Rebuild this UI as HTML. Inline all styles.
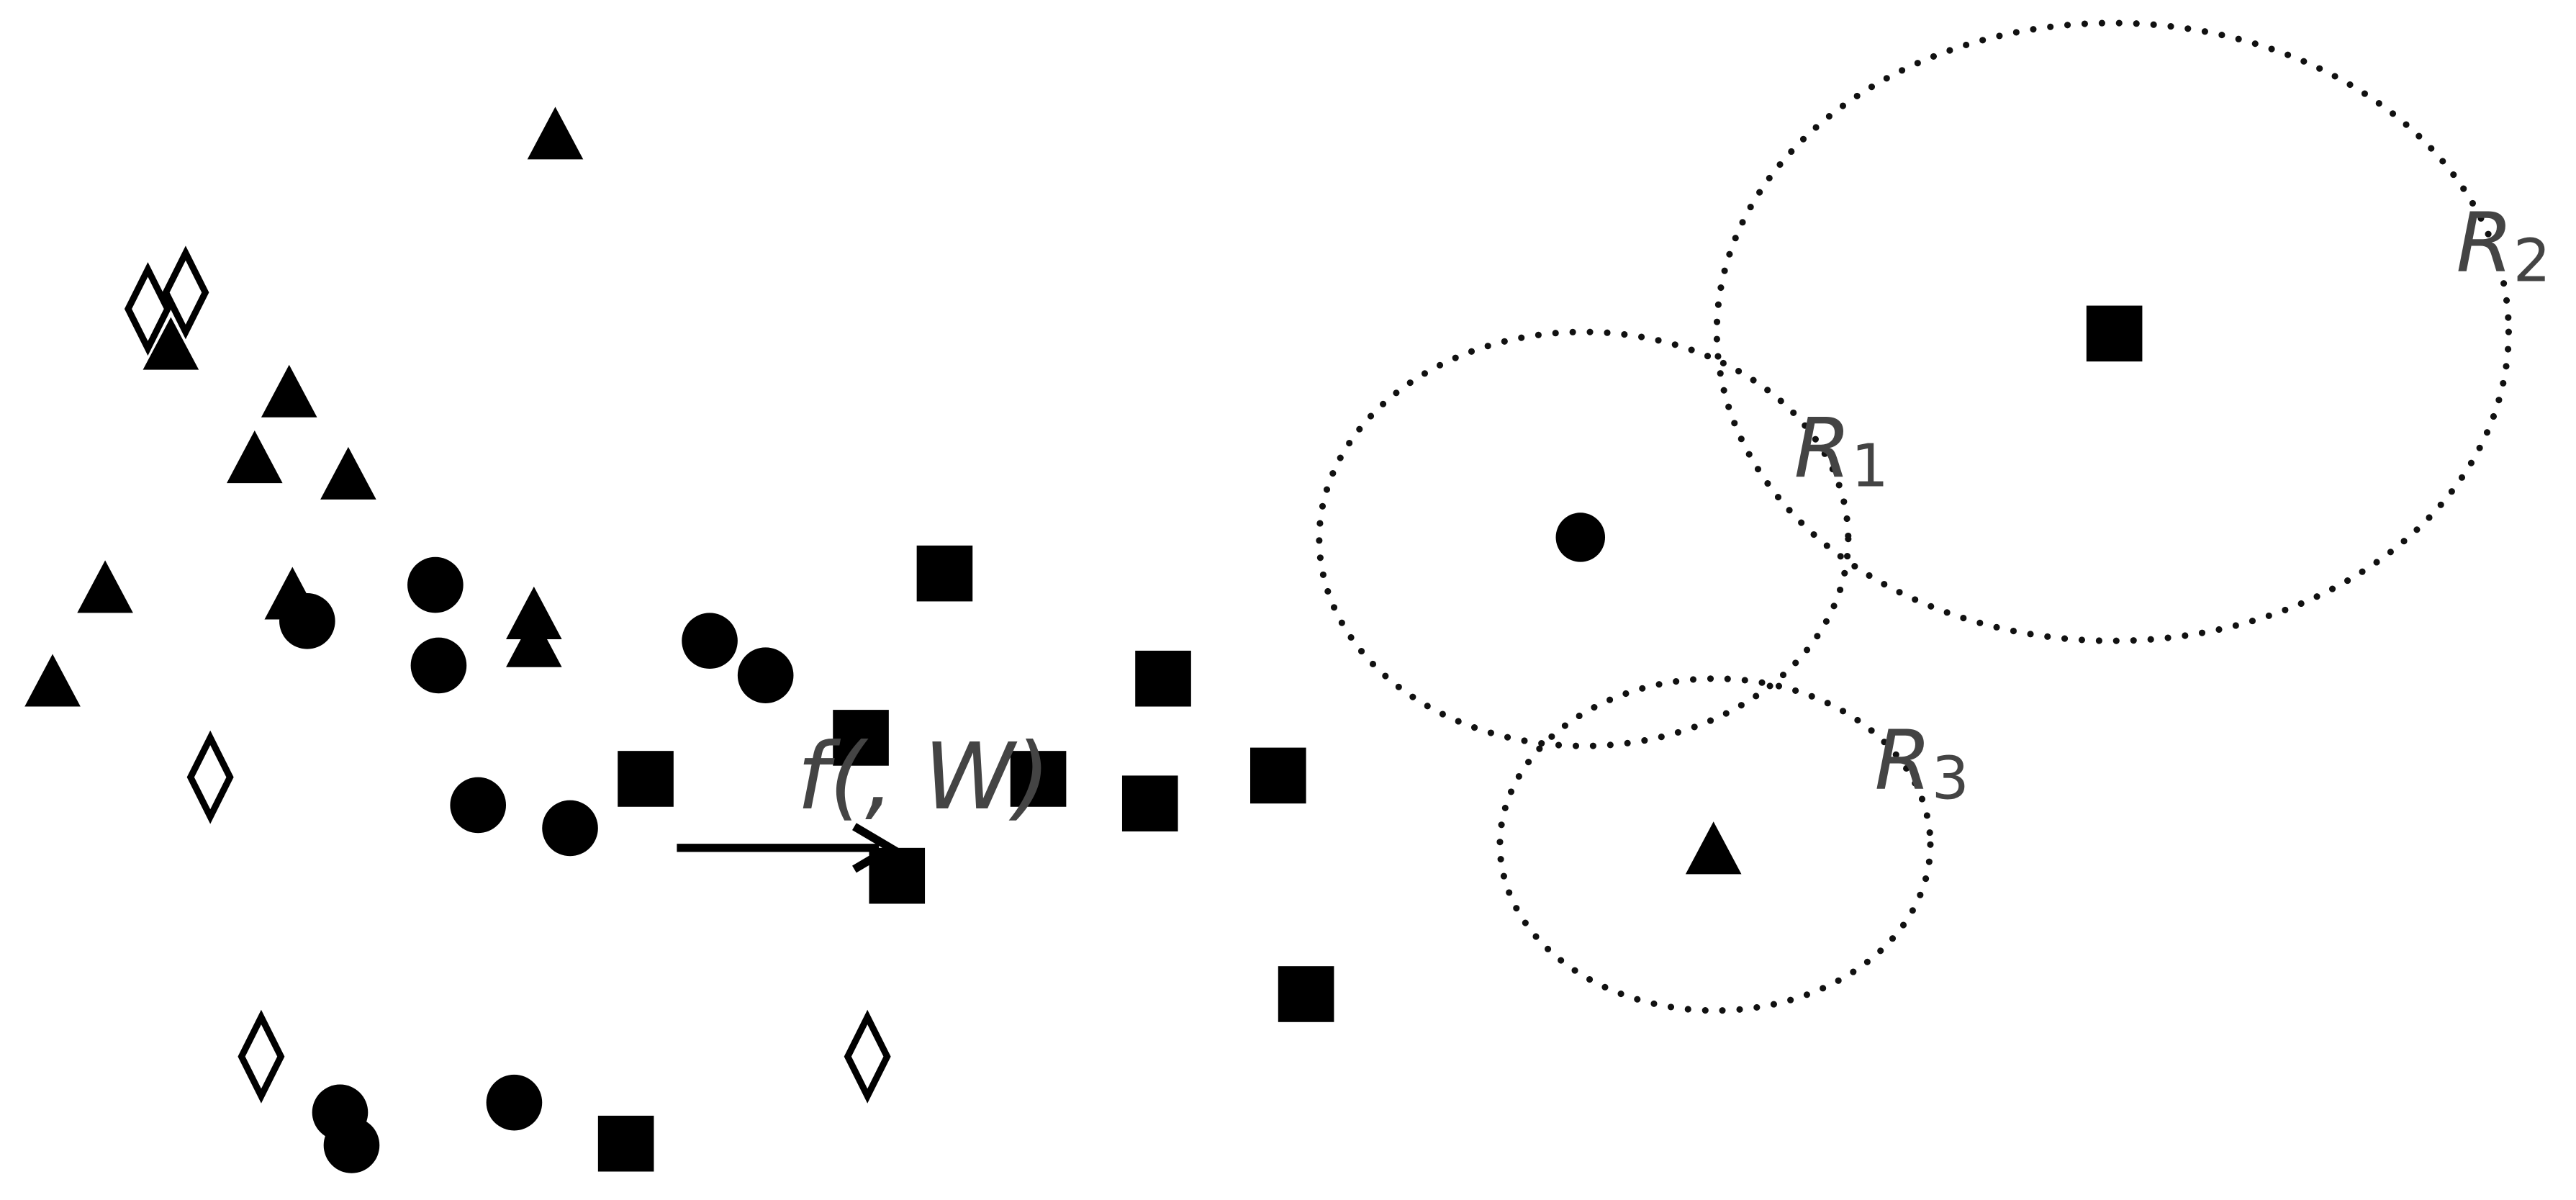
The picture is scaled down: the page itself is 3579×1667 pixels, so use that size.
<!DOCTYPE html>
<html><head><meta charset="utf-8"><style>
html,body{margin:0;padding:0;background:#fff;}
svg{display:block;}
text{font-family:"DejaVu Sans","Liberation Sans",sans-serif;font-style:italic;fill:#444;}
</style></head><body>
<svg width="3579" height="1667" viewBox="0 0 1568 730.3" preserveAspectRatio="none" xmlns="http://www.w3.org/2000/svg">
<defs>
<polygon id="t" points="0,-17 17,15 -17,15"/>
<rect id="s" x="-17" y="-17" width="34" height="34"/>
<polygon id="d" points="0,-24 12,0 0,24 -12,0" fill="#fff" stroke="#000" stroke-width="4"/>
</defs>
<g fill="#000">
<use href="#t" x="338" y="82"/>
<use href="#t" x="104" y="210"/>
<use href="#t" x="176" y="239"/>
<use href="#t" x="155" y="279"/>
<use href="#t" x="212" y="289"/>
<use href="#t" x="64" y="358"/>
<use href="#t" x="32" y="415"/>
<use href="#t" x="178" y="362"/>
<use href="#t" x="325" y="374"/>
<use href="#t" x="325" y="391"/>
<circle cx="187" cy="378" r="17"/>
<circle cx="265" cy="356" r="17"/>
<circle cx="267" cy="405" r="17"/>
<circle cx="432" cy="390" r="17"/>
<circle cx="466" cy="411" r="17"/>
<circle cx="291" cy="490" r="17"/>
<circle cx="347" cy="504" r="17"/>
<circle cx="207" cy="677" r="17"/>
<circle cx="214" cy="697" r="17"/>
<circle cx="313" cy="671" r="17"/>
<use href="#s" x="575" y="349"/>
<use href="#s" x="708" y="413"/>
<use href="#s" x="524" y="449"/>
<use href="#s" x="393" y="474"/>
<use href="#s" x="632" y="474"/>
<use href="#s" x="700" y="489"/>
<use href="#s" x="778" y="472"/>
<use href="#s" x="546" y="533"/>
<use href="#s" x="795" y="605"/>
<use href="#s" x="381" y="696"/>
<circle cx="962" cy="327" r="15"/>
<rect x="1270" y="186" width="34" height="34"/>
<use href="#t" x="1043" y="517"/>
</g>
<use href="#d" x="90" y="188"/>
<use href="#d" x="113" y="178"/>
<use href="#d" x="128" y="473"/>
<use href="#d" x="159" y="643"/>
<use href="#d" x="528" y="643"/>
<line x1="412" y1="516" x2="535" y2="516" stroke="#000" stroke-width="5"/>
<polyline points="520,503 542,516 520,529" fill="none" stroke="#000" stroke-width="5"/>
<text x="485" y="492" font-size="56">f(, W)</text>
<g fill="none" stroke="#111" stroke-width="4" stroke-linecap="round" stroke-dasharray="0 10.5">
<ellipse cx="964" cy="328" rx="161" ry="126"/>
<ellipse cx="1286" cy="202" rx="241" ry="188"/>
<ellipse cx="1044" cy="514" rx="131" ry="101"/>
</g>
<text x="1092" y="290" font-size="50">R<tspan font-size="36" dy="6" font-style="normal">1</tspan></text>
<text x="1495" y="165" font-size="50">R<tspan font-size="36" dy="6" font-style="normal">2</tspan></text>
<text x="1141" y="480" font-size="50">R<tspan font-size="36" dy="6" font-style="normal">3</tspan></text>
</svg>
</body></html>
